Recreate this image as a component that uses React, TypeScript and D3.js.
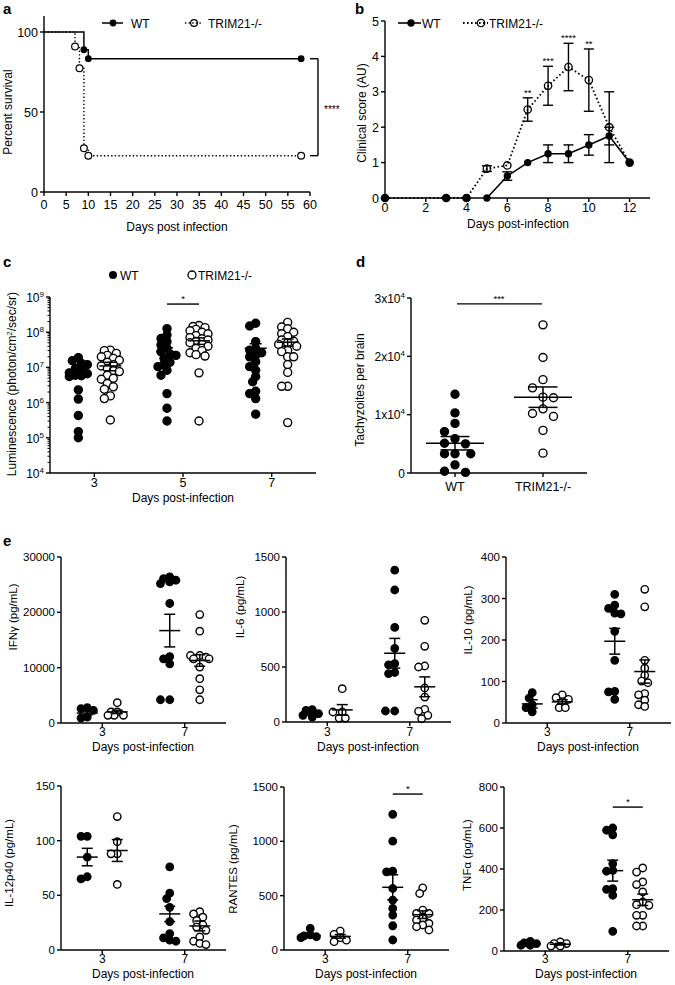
import React from "react";
import * as d3 from "d3";

const FONT = "'Liberation Sans', Arial, Helvetica, sans-serif";

// ===== Panel a: survival =====
const survDaysWT = [0, 9, 10, 58];
const survPctWT = [100, 88.9, 83.3, 83.3];
const survDaysKO = [0, 7, 8, 9, 10, 58];
const survPctKO = [100, 90.9, 77.3, 27.3, 22.7, 22.7];
const survXTicks = [0, 5, 10, 15, 20, 25, 30, 35, 40, 45, 50, 55, 60];
const survYTicks = [0, 50, 100];
const survSig = "****";

// ===== Panel b: clinical score =====
const clinDays = [0, 3, 4, 5, 6, 7, 8, 9, 10, 11, 12];
const clinWT = [0, 0, 0, 0, 0.62, 1.0, 1.25, 1.25, 1.5, 1.75, 1.0];
const clinWTsem = [0, 0, 0, 0, 0.12, 0, 0.25, 0.25, 0.29, 0.25, 0];
const clinKO = [0, 0, 0, 0.83, 0.92, 2.5, 3.17, 3.7, 3.33, 2.0, 1.0];
const clinKOsem = [0, 0, 0, 0.08, 0, 0.33, 0.55, 0.67, 0.88, 1.0, 0];
const clinStarDays = [7, 8, 9, 10];
const clinStars = ["**", "***", "****", "**"];
const clinXTicks = [0, 2, 4, 6, 8, 10, 12];
const clinYTicks = [0, 1, 2, 3, 4, 5];

// ===== Panel c: luminescence =====
const lumDays = [3, 5, 7];
const lumWT3 = [1.9e7, 1.55e7, 1.3e7, 1.2e7, 9.3e6, 8e6, 7e6, 6.6e6, 6e6, 5.8e6, 5.5e6, 2.3e6, 1.26e6, 4.3e5, 1.5e5, 1.0e5];
const lumKO3 = [3.1e7, 3.0e7, 2.5e7, 2.2e7, 2.0e7, 1.8e7, 1.6e7, 1.4e7, 1.2e7, 1.1e7, 9.3e6, 8e6, 7.6e6, 6e6, 4.9e6, 4.6e6, 3.5e6, 2.8e6, 2.4e6, 1.55e6, 1.3e6, 3.2e5];
const lumWT5 = [1.26e8, 8.3e7, 6.6e7, 5.4e7, 4.3e7, 3.5e7, 2.8e7, 2.4e7, 2.2e7, 1.8e7, 1.4e7, 1.2e7, 1.05e7, 8.3e6, 6e6, 1.8e6, 6.9e5, 3e5];
const lumKO5 = [1.55e8, 1.45e8, 1.35e8, 1.2e8, 1.1e8, 1.0e8, 9e7, 8e7, 7e7, 6.5e7, 6e7, 5.5e7, 5e7, 4.5e7, 4e7, 3.5e7, 3e7, 2.6e7, 2.3e7, 2.1e7, 7e6, 3e5];
const lumWT7 = [1.8e8, 1.5e8, 5.4e7, 3.5e7, 3.1e7, 2.6e7, 2.2e7, 2e7, 1.45e7, 1.05e7, 8.3e6, 5.5e6, 3.9e6, 2.1e6, 1.8e6, 1.3e6, 4.7e5];
const lumKO7 = [1.9e8, 1.4e8, 1.25e8, 1.0e8, 9e7, 7.5e7, 6e7, 5.5e7, 5e7, 4.5e7, 4e7, 3e7, 2.8e7, 2e7, 2e7, 1.2e7, 7.2e6, 2.9e6, 2.9e6, 2.7e5];
const lumMeansWT = [6.5e6, 2.8e7, 3.5e7];
const lumSemsWT = [1.0e6, 8e6, 1.2e7];
const lumMeansKO = [1.1e7, 5.7e7, 5.2e7];
const lumSemsKO = [3e6, 1.2e7, 1.2e7];
const lumYTickExp = [4, 5, 6, 7, 8, 9];
const lumSigDay = 5;
const lumSigValue = 6.3e8;

// ===== Panel d: tachyzoites =====
const tachyGroups = ["WT", "TRIM21-/-"];
const tachyWT = [13500, 10300, 8500, 7100, 5900, 5100, 5000, 3300, 3300, 3300, 1400, 300, 100];
const tachyKO = [25400, 19800, 16000, 14600, 13000, 12900, 11000, 10200, 9700, 7300, 3400];
const tachyMeans = [5100, 13000];
const tachySems = [1150, 1750];
const tachyYTicks = [0, 10000, 20000, 30000];
const tachyYTickLabels = ["0", "1x10", "2x10", "3x10"];
const tachySigValue = 29000;

// ===== Panel e: cytokines =====
const eDays = ["3", "7"];
const ifngWT3 = [2770, 2590, 2290, 1080, 900];
const ifngKO3 = [3670, 2000, 2000, 1390, 1390, 1390];
const ifngWT7 = [26400, 26100, 25800, 25500, 25200, 21600, 12000, 11600, 10700, 4200, 4200];
const ifngKO7 = [19600, 16600, 12200, 12200, 11900, 11600, 11600, 10100, 8000, 6000, 4200];
const ifngMeans = [1800, 2000, 16700, 11300];
const ifngSems = [350, 300, 2950, 1050];
const ifngTicks = [0, 10000, 20000, 30000];

const il6WT3 = [112, 106, 76, 61, 45];
const il6KO3 = [303, 91, 91, 36, 36];
const il6WT7 = [1380, 1200, 860, 670, 530, 520, 450, 440, 100, 100];
const il6KO7 = [924, 688, 509, 500, 309, 227, 115, 97, 61, 30];
const il6Means = [75, 110, 625, 320];
const il6Sems = [12, 48, 135, 90];
const il6Ticks = [0, 500, 1000, 1500];

const il10WT3 = [73, 60, 44, 37, 27];
const il10KO3 = [68, 61, 57, 51, 37, 37];
const il10WT7 = [310, 284, 276, 265, 263, 221, 151, 76, 75, 57];
const il10KO7 = [322, 280, 151, 132, 115, 101, 97, 71, 68, 55, 44, 40];
const il10Means = [46, 51, 197, 124];
const il10Sems = [10, 5, 31, 28];
const il10Ticks = [0, 100, 200, 300, 400];

const il12WT3 = [104, 104, 85, 67, 65];
const il12KO3 = [122, 99, 88, 88, 60];
const il12WT7 = [76, 52, 47, 39, 26, 15, 11, 9, 8];
const il12KO7 = [35, 33, 30, 27, 23, 21, 18, 12, 8, 6, 5];
const il12Means = [85, 91, 33, 22];
const il12Sems = [8, 10, 7, 4.5];
const il12Ticks = [0, 50, 100, 150];

const rantesWT3 = [199, 140, 130, 122, 113];
const rantesKO3 = [174, 144, 113, 90, 77];
const rantesWT7 = [1249, 1001, 725, 719, 566, 459, 383, 321, 223, 92];
const rantesKO7 = [572, 520, 367, 337, 337, 291, 275, 245, 230, 214, 184];
const rantesMeans = [135, 125, 577, 325];
const rantesSems = [15, 17, 115, 35];
const rantesTicks = [0, 500, 1000, 1500];

const tnfWT3 = [47, 39, 36, 28, 28];
const tnfKO3 = [44, 36, 36, 24, 24];
const tnfWT7 = [600, 589, 567, 426, 393, 389, 304, 301, 272, 96];
const tnfKO7 = [405, 385, 337, 324, 288, 239, 226, 223, 174, 174, 122, 122];
const tnfMeans = [35, 33, 392, 250];
const tnfSems = [4, 4, 51, 28];
const tnfTicks = [0, 200, 400, 600, 800];

const ePanels = [
  { label: "IFNγ (pg/mL)", ticks: ifngTicks, wt3: ifngWT3, ko3: ifngKO3, wt7: ifngWT7, ko7: ifngKO7, means: ifngMeans, sems: ifngSems, sig: null as number | null },
  { label: "IL-6 (pg/mL)", ticks: il6Ticks, wt3: il6WT3, ko3: il6KO3, wt7: il6WT7, ko7: il6KO7, means: il6Means, sems: il6Sems, sig: null as number | null },
  { label: "IL-10 (pg/mL)", ticks: il10Ticks, wt3: il10WT3, ko3: il10KO3, wt7: il10WT7, ko7: il10KO7, means: il10Means, sems: il10Sems, sig: null as number | null },
  { label: "IL-12p40 (pg/mL)", ticks: il12Ticks, wt3: il12WT3, ko3: il12KO3, wt7: il12WT7, ko7: il12KO7, means: il12Means, sems: il12Sems, sig: null as number | null },
  { label: "RANTES (pg/mL)", ticks: rantesTicks, wt3: rantesWT3, ko3: rantesKO3, wt7: rantesWT7, ko7: rantesKO7, means: rantesMeans, sems: rantesSems, sig: 1435 as number | null },
  { label: "TNFα (pg/mL)", ticks: tnfTicks, wt3: tnfWT3, ko3: tnfKO3, wt7: tnfWT7, ko7: tnfKO7, means: tnfMeans, sems: tnfSems, sig: 702 as number | null },
];

// layout of the six cytokine panels (pixels)
const eLayout = [
  { ax: 61, bottom: 723, top: 557, labX: 13, labY: 617, tickY: 736, titleY: 751 },
  { ax: 286, bottom: 722, top: 557, labX: 240, labY: 607, tickY: 736, titleY: 751 },
  { ax: 506, bottom: 723, top: 557, labX: 468, labY: 620, tickY: 736, titleY: 751 },
  { ax: 61, bottom: 950, top: 786, labX: 9, labY: 863, tickY: 963, titleY: 978 },
  { ax: 284, bottom: 950, top: 787, labX: 233, labY: 869, tickY: 963, titleY: 978 },
  { ax: 504, bottom: 951, top: 787, labX: 467, labY: 855, tickY: 963, titleY: 978 },
];

type Pt = { x: number; y: number };

function swarm(vals: number[], yf: (v: number) => number, cx: number, step: number, maxHalf: number): Pt[] {
  const pts: Pt[] = vals.map((v) => ({ y: yf(v), x: cx }));
  const order = d3.range(pts.length).sort((a, b) => pts[a].y - pts[b].y);
  const placed: Pt[] = [];
  const cands: number[] = [0];
  for (let k = 1; (k * step) / 2 <= maxHalf + 1e-6; k++) cands.push((-k * step) / 2, (k * step) / 2);
  for (const i of order) {
    const p = pts[i];
    let best = 0;
    let bestScore = -Infinity;
    for (const c of cands) {
      let minD = Infinity;
      for (const q of placed) {
        const d = Math.hypot(cx + c - q.x, p.y - q.y);
        if (d < minD) minD = d;
      }
      if (minD >= step) {
        best = c;
        break;
      }
      if (minD > bestScore) {
        bestScore = minD;
        best = c;
      }
    }
    p.x = cx + best;
    placed.push(p);
  }
  return pts;
}

const K = "#000";

function MeanSem({ cx, yMean, yHi, yLo, half, cap, sw = 1.5 }: { cx: number; yMean: number; yHi: number; yLo: number; half: number; cap: number; sw?: number }) {
  return (
    <g stroke={K} strokeWidth={sw} fill="none">
      <line x1={cx - half} x2={cx + half} y1={yMean} y2={yMean} />
      <line x1={cx} x2={cx} y1={yHi} y2={yLo} />
      <line x1={cx - cap} x2={cx + cap} y1={yHi} y2={yHi} />
      <line x1={cx - cap} x2={cx + cap} y1={yLo} y2={yLo} />
    </g>
  );
}

function Dots({ pts, filled, r }: { pts: Pt[]; filled: boolean; r: number }) {
  return (
    <g>
      {pts.map((p, i) => (
        <circle key={i} cx={p.x} cy={p.y} r={r} fill={filled ? K : "#fff"} stroke={K} strokeWidth={1.4} />
      ))}
    </g>
  );
}

function PanelA() {
  const x = d3.scaleLinear().domain([0, 60]).range([44, 310]);
  const y = d3.scaleLinear().domain([0, 110]).range([192, 16]);
  const line = d3
    .line<[number, number]>()
    .x((d) => x(d[0]))
    .y((d) => y(d[1]))
    .curve(d3.curveStepAfter);
  const wt: [number, number][] = survDaysWT.map((d, i) => [d, survPctWT[i]]);
  const ko: [number, number][] = survDaysKO.map((d, i) => [d, survPctKO[i]]);
  const bx = 318;
  return (
    <g>
      <text x={3} y={14} fontSize={15} fontWeight="bold">a</text>
      <path d={line(ko) || ""} fill="none" stroke={K} strokeWidth={1.4} strokeDasharray="1.4,2.2" />
      <path d={line(wt) || ""} fill="none" stroke={K} strokeWidth={1.5} />
      {ko.slice(1).map((d, i) => (
        <circle key={"k" + i} cx={x(d[0])} cy={y(d[1])} r={3.4} fill="#fff" stroke={K} strokeWidth={1.2} />
      ))}
      {wt.slice(1).map((d, i) => (
        <circle key={"w" + i} cx={x(d[0])} cy={y(d[1])} r={3.4} fill={K} />
      ))}
      <g stroke={K} strokeWidth={1.4}>
        <line x1={x(0)} x2={x(0)} y1={y(0)} y2={y(110)} />
        <line x1={x(0)} x2={x(60)} y1={y(0)} y2={y(0)} />
        {survYTicks.map((t) => (
          <line key={t} x1={x(0) - 4} x2={x(0)} y1={y(t)} y2={y(t)} />
        ))}
        {survXTicks.map((t) => (
          <line key={t} x1={x(t)} x2={x(t)} y1={y(0)} y2={y(0) + 4} />
        ))}
        <line x1={x(60)} x2={bx} y1={y(survPctWT[3])} y2={y(survPctWT[3])} />
        <line x1={x(60)} x2={bx} y1={y(survPctKO[5])} y2={y(survPctKO[5])} />
        <line x1={bx} x2={bx} y1={y(survPctWT[3])} y2={y(survPctKO[5])} />
      </g>
      <text x={324} y={y((survPctWT[3] + survPctKO[5]) / 2) + 6} fontSize={10}>{survSig}</text>
      {survYTicks.map((t) => (
        <text key={t} x={x(0) - 6} y={y(t) + 4.5} fontSize={12.5} textAnchor="end">{t}</text>
      ))}
      {survXTicks.map((t) => (
        <text key={t} x={x(t)} y={y(0) + 17} fontSize={12.5} textAnchor="middle">{t}</text>
      ))}
      <text x={177} y={231} fontSize={12} textAnchor="middle">Days post infection</text>
      <text transform={`translate(12,112) rotate(-90)`} fontSize={12} textAnchor="middle">Percent survival</text>
      {/* legend */}
      <line x1={102} x2={123} y1={23} y2={23} stroke={K} strokeWidth={1.5} />
      <circle cx={113} cy={23} r={3.4} fill={K} />
      <text x={131} y={27.5} fontSize={12}>WT</text>
      <line x1={185} x2={203} y1={23} y2={23} stroke={K} strokeWidth={1.4} strokeDasharray="1.4,2.2" />
      <circle cx={194} cy={23} r={3.4} fill="none" stroke={K} strokeWidth={1.2} />
      <text x={208} y={27.5} fontSize={12}>TRIM21-/-</text>
    </g>
  );
}

function PanelB() {
  const x = d3.scaleLinear().domain([0, 13]).range([385, 650]);
  const y = d3.scaleLinear().domain([0, 5]).range([198, 21]);
  const lineKO = d3
    .line<number>()
    .x((_, i) => x(clinDays[i]))
    .y((d) => y(d));
  const lineWT = d3
    .line<number>()
    .x((_, i) => x(clinDays[i + 3]))
    .y((d) => y(d));
  const errs = (vals: number[], sems: number[], key: string) =>
    vals.map((v, i) =>
      sems[i] > 0 ? (
        <g key={key + i} stroke={K} strokeWidth={1.4}>
          <line x1={x(clinDays[i])} x2={x(clinDays[i])} y1={y(v + sems[i])} y2={y(v - sems[i])} />
          <line x1={x(clinDays[i]) - 5} x2={x(clinDays[i]) + 5} y1={y(v + sems[i])} y2={y(v + sems[i])} />
          <line x1={x(clinDays[i]) - 5} x2={x(clinDays[i]) + 5} y1={y(v - sems[i])} y2={y(v - sems[i])} />
        </g>
      ) : null
    );
  return (
    <g>
      <text x={355} y={14} fontSize={15} fontWeight="bold">b</text>
      {errs(clinKO, clinKOsem, "k")}
      {errs(clinWT, clinWTsem, "w")}
      <path d={lineKO(clinKO) || ""} fill="none" stroke={K} strokeWidth={1.8} strokeDasharray="1.6,2.4" />
      <path d={lineWT(clinWT.slice(3)) || ""} fill="none" stroke={K} strokeWidth={1.6} />
      {clinKO.map((v, i) => (
        <circle key={"k" + i} cx={x(clinDays[i])} cy={y(v)} r={3.7} fill="none" stroke={K} strokeWidth={1.3} />
      ))}
      {clinWT.map((v, i) => (
        <circle key={"w" + i} cx={x(clinDays[i])} cy={y(v)} r={3.7} fill={K} />
      ))}
      {clinStarDays.map((d, i) => {
        const idx = clinDays.indexOf(d);
        return (
          <text key={i} x={x(d)} y={y(clinKO[idx] + clinKOsem[idx] + 0.2) + 5} fontSize={9.5} textAnchor="middle">
            {clinStars[i]}
          </text>
        );
      })}
      <g stroke={K} strokeWidth={1.4}>
        <line x1={x(0)} x2={x(0)} y1={y(0)} y2={y(5)} />
        <line x1={x(0)} x2={x(13)} y1={y(0)} y2={y(0)} />
        {clinYTicks.map((t) => (
          <line key={t} x1={x(0) - 4} x2={x(0)} y1={y(t)} y2={y(t)} />
        ))}
        {clinXTicks.map((t) => (
          <line key={t} x1={x(t)} x2={x(t)} y1={y(0)} y2={y(0) + 4} />
        ))}
      </g>
      {clinYTicks.map((t) => (
        <text key={t} x={x(0) - 6} y={y(t) + 4.5} fontSize={12.5} textAnchor="end">{t}</text>
      ))}
      {clinXTicks.map((t) => (
        <text key={t} x={x(t)} y={212} fontSize={12.5} textAnchor="middle">{t}</text>
      ))}
      <text x={518} y={228} fontSize={12} textAnchor="middle">Days post-infection</text>
      <text transform={`translate(366,113) rotate(-90)`} fontSize={12} textAnchor="middle">Clinical score (AU)</text>
      <line x1={398} x2={421} y1={23} y2={23} stroke={K} strokeWidth={1.6} />
      <circle cx={411} cy={23} r={3.7} fill={K} />
      <text x={422} y={27.5} fontSize={12}>WT</text>
      <line x1={463} x2={488} y1={23} y2={23} stroke={K} strokeWidth={1.8} strokeDasharray="1.6,2.4" />
      <circle cx={481} cy={23} r={3.7} fill="none" stroke={K} strokeWidth={1.3} />
      <text x={489} y={27.5} fontSize={12}>TRIM21-/-</text>
    </g>
  );
}

function PanelC() {
  const x = d3.scaleLinear().domain([2, 8]).range([50, 316]);
  const y = d3.scaleLog().domain([1e4, 1e9]).range([473, 297]);
  const wt = [lumWT3, lumWT5, lumWT7];
  const ko = [lumKO3, lumKO5, lumKO7];
  const off = 16;
  const minors: number[] = [];
  for (let e = 4; e < 9; e++) for (let m = 2; m <= 9; m++) minors.push(m * Math.pow(10, e));
  return (
    <g>
      <text x={3} y={267} fontSize={15} fontWeight="bold">c</text>
      {lumDays.map((d, i) => (
        <g key={d}>
          <Dots pts={swarm(wt[i], (v) => y(v), x(d) - off, 6, 11)} filled r={4} />
          <Dots pts={swarm(ko[i], (v) => y(v), x(d) + off, 6, 11)} filled={false} r={4} />
          <MeanSem cx={x(d) - off} yMean={y(lumMeansWT[i])} yHi={y(lumMeansWT[i] + lumSemsWT[i])} yLo={y(lumMeansWT[i] - lumSemsWT[i])} half={11} cap={6} />
          <MeanSem cx={x(d) + off} yMean={y(lumMeansKO[i])} yHi={y(lumMeansKO[i] + lumSemsKO[i])} yLo={y(lumMeansKO[i] - lumSemsKO[i])} half={11} cap={6} />
        </g>
      ))}
      <line x1={x(lumSigDay) - off} x2={x(lumSigDay) + off} y1={y(lumSigValue)} y2={y(lumSigValue)} stroke={K} strokeWidth={1.4} />
      <text x={x(lumSigDay)} y={y(lumSigValue) - 2} fontSize={9.5} textAnchor="middle">*</text>
      <g stroke={K} strokeWidth={1.4}>
        <line x1={x(2)} x2={x(2)} y1={y(1e4)} y2={y(1e9)} />
        <line x1={x(2)} x2={x(8)} y1={y(1e4)} y2={y(1e4)} />
        {lumYTickExp.map((e) => (
          <line key={e} x1={x(2) - 4} x2={x(2)} y1={y(Math.pow(10, e))} y2={y(Math.pow(10, e))} />
        ))}
        {minors.map((m, i) => (
          <line key={"m" + i} x1={x(2) - 2.5} x2={x(2)} y1={y(m)} y2={y(m)} strokeWidth={1} />
        ))}
        {lumDays.map((d) => (
          <line key={d} x1={x(d)} x2={x(d)} y1={y(1e4)} y2={y(1e4) + 4} />
        ))}
      </g>
      {lumYTickExp.map((e) => (
        <text key={e} x={x(2) - 6} y={y(Math.pow(10, e)) + 5} fontSize={12} textAnchor="end">
          10<tspan dy={-5} fontSize={8}>{e}</tspan>
        </text>
      ))}
      {lumDays.map((d) => (
        <text key={d} x={x(d)} y={487} fontSize={12.5} textAnchor="middle">{d}</text>
      ))}
      <text x={183} y={502} fontSize={12} textAnchor="middle">Days post-infection</text>
      <text transform={`translate(16,384) rotate(-90)`} fontSize={12} textAnchor="middle">
        Luminescence (photon/cm<tspan dy={-4} fontSize={7.5}>2</tspan><tspan dy={4}>/sec/sr)</tspan>
      </text>
      <circle cx={113} cy={275} r={4} fill={K} />
      <text x={120} y={279.5} fontSize={12}>WT</text>
      <circle cx={192} cy={275} r={4} fill="#fff" stroke={K} strokeWidth={1.3} />
      <text x={198} y={279.5} fontSize={12}>TRIM21-/-</text>
    </g>
  );
}

function PanelD() {
  const x = d3.scalePoint<string>().domain(tachyGroups).range([411, 587]).padding(0.5);
  const y = d3.scaleLinear().domain([0, 30000]).range([473, 298]);
  const groups = [tachyWT, tachyKO];
  return (
    <g>
      <text x={356} y={267} fontSize={15} fontWeight="bold">d</text>
      {tachyGroups.map((g, i) => (
        <g key={g}>
          <Dots pts={swarm(groups[i], (v) => y(v), x(g)!, 10.5, 33)} filled={i === 0} r={4} />
          <MeanSem cx={x(g)!} yMean={y(tachyMeans[i])} yHi={y(tachyMeans[i] + tachySems[i])} yLo={y(tachyMeans[i] - tachySems[i])} half={29} cap={14.5} />
        </g>
      ))}
      <line x1={x("WT")! + 2} x2={x("TRIM21-/-")! - 1} y1={y(tachySigValue)} y2={y(tachySigValue)} stroke={K} strokeWidth={1.4} />
      <text x={(x("WT")! + x("TRIM21-/-")!) / 2} y={y(tachySigValue) - 2} fontSize={9.5} textAnchor="middle">***</text>
      <g stroke={K} strokeWidth={1.4}>
        <line x1={411} x2={411} y1={y(0)} y2={y(30000)} />
        <line x1={411} x2={587} y1={y(0)} y2={y(0)} />
        {tachyYTicks.map((t) => (
          <line key={t} x1={407} x2={411} y1={y(t)} y2={y(t)} />
        ))}
        {tachyGroups.map((g) => (
          <line key={g} x1={x(g)!} x2={x(g)!} y1={y(0)} y2={y(0) + 4} />
        ))}
      </g>
      {tachyYTicks.map((t, i) => (
        <text key={t} x={405} y={y(t) + 4.5} fontSize={12} textAnchor="end">
          {tachyYTickLabels[i]}
          {i > 0 ? <tspan dy={-5} fontSize={8}>4</tspan> : null}
        </text>
      ))}
      {tachyGroups.map((g) => (
        <text key={g} x={x(g)!} y={491} fontSize={12.5} textAnchor="middle">{g}</text>
      ))}
      <text transform={`translate(364,390) rotate(-90)`} fontSize={12} textAnchor="middle">Tachyzoites per brain</text>
    </g>
  );
}

function PanelE({ p, L }: { p: (typeof ePanels)[number]; L: (typeof eLayout)[number] }) {
  const max = p.ticks[p.ticks.length - 1];
  const x = d3.scalePoint<string>().domain(eDays).range([L.ax, L.ax + 165]).padding(0.5);
  const y = d3.scaleLinear().domain([0, max]).range([L.bottom, L.top]);
  const off = 15;
  const sets = [
    { vals: p.wt3, cx: x("3")! - off, filled: true, m: 0 },
    { vals: p.ko3, cx: x("3")! + off, filled: false, m: 1 },
    { vals: p.wt7, cx: x("7")! - off, filled: true, m: 2 },
    { vals: p.ko7, cx: x("7")! + off, filled: false, m: 3 },
  ];
  return (
    <g>
      {sets.map((s, i) => (
        <g key={i}>
          <Dots pts={swarm(s.vals, (v) => y(v), s.cx, 6.2, 11)} filled={s.filled} r={3.7} />
          <MeanSem cx={s.cx} yMean={y(p.means[s.m])} yHi={y(p.means[s.m] + p.sems[s.m])} yLo={y(p.means[s.m] - p.sems[s.m])} half={10.5} cap={5.5} />
        </g>
      ))}
      {p.sig !== null ? (
        <g>
          <line x1={x("7")! - off} x2={x("7")! + off} y1={y(p.sig)} y2={y(p.sig)} stroke={K} strokeWidth={1.4} />
          <text x={x("7")!} y={y(p.sig) - 2} fontSize={9.5} textAnchor="middle">*</text>
        </g>
      ) : null}
      <g stroke={K} strokeWidth={1.4}>
        <line x1={L.ax} x2={L.ax} y1={y(0)} y2={y(max)} />
        <line x1={L.ax} x2={L.ax + 165} y1={y(0)} y2={y(0)} />
        {p.ticks.map((t) => (
          <line key={t} x1={L.ax - 4} x2={L.ax} y1={y(t)} y2={y(t)} />
        ))}
        {eDays.map((d) => (
          <line key={d} x1={x(d)!} x2={x(d)!} y1={y(0)} y2={y(0) + 4} />
        ))}
      </g>
      {p.ticks.map((t) => (
        <text key={t} x={L.ax - 6} y={y(t) + 4} fontSize={11.5} textAnchor="end">{t}</text>
      ))}
      {eDays.map((d) => (
        <text key={d} x={x(d)!} y={L.tickY} fontSize={12} textAnchor="middle">{d}</text>
      ))}
      <text x={L.ax + 82} y={L.titleY} fontSize={12} textAnchor="middle">Days post-infection</text>
      <text transform={`translate(${L.labX + 4},${L.labY}) rotate(-90)`} fontSize={11.5} textAnchor="middle">{p.label}</text>
    </g>
  );
}

export default function App() {
  return (
    <svg width={675} height={985} style={{ position: "absolute", left: 0, top: 0, background: "#fff" }} fontFamily={FONT}>
      <rect width={675} height={985} fill="#fff" />
      <PanelA />
      <PanelB />
      <PanelC />
      <PanelD />
      <text x={3} y={546} fontSize={15} fontWeight="bold">e</text>
      {ePanels.map((p, i) => (
        <PanelE key={i} p={p} L={eLayout[i]} />
      ))}
    </svg>
  );
}
